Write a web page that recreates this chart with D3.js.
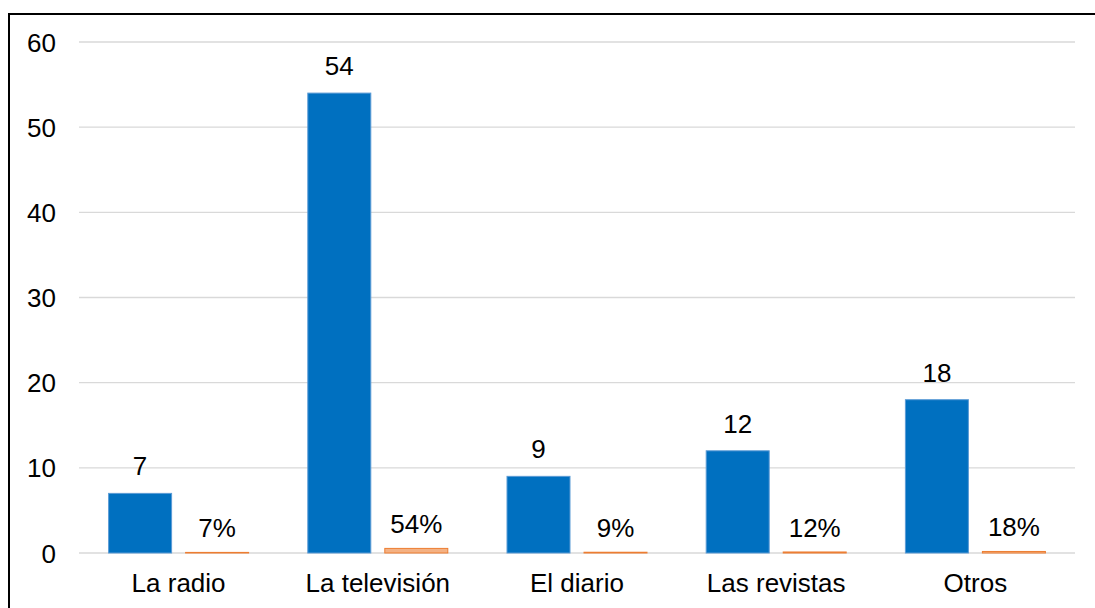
<!DOCTYPE html>
<html>
<head>
<meta charset="utf-8">
<script src="https://cdn.jsdelivr.net/npm/d3@7"></script>
<style>
  body { margin: 0; background: #fff; }
  text { font-family: "Liberation Sans", Arial, sans-serif; }
</style>
</head>
<body>
<script>
const w = 1095;
const h = 608;

const categories = ['La radio', 'La televisión', 'El diario', 'Las revistas', 'Otros'];
const counts = [7, 54, 9, 12, 18];
const percents = [0.07, 0.54, 0.09, 0.12, 0.18];
const yTicks = [0, 10, 20, 30, 40, 50, 60];

const fontSize = '26px';

const svg = d3.select('body')
  .append('svg')
  .attr('width', w)
  .attr('height', h);

// outer frame (right and bottom edges run off the page)
svg.append('rect')
  .attr('x', 9)
  .attr('y', 14)
  .attr('width', 1100)
  .attr('height', 610)
  .attr('fill', 'none')
  .attr('stroke', '#000')
  .attr('stroke-width', 2);

const x = d3.scaleBand()
  .domain(categories)
  .range([79, 1075])
  .paddingInner(0)
  .paddingOuter(0);

const y = d3.scaleLinear()
  .domain([0, 60])
  .range([553, 42]);

const barW = 63;
const gap = 14;

// gridlines
svg.selectAll('line.grid')
  .data(yTicks)
  .enter()
  .append('line')
  .attr('class', 'grid')
  .attr('x1', 79)
  .attr('x2', 1075)
  .attr('y1', d => y(d))
  .attr('y2', d => y(d))
  .attr('stroke', '#d9d9d9')
  .attr('stroke-width', 1.3);

svg.selectAll('text.ytick')
  .data(yTicks)
  .enter()
  .append('text')
  .attr('class', 'ytick')
  .text(d => d)
  .attr('x', 56)
  .attr('y', d => y(d) + 9.5)
  .attr('text-anchor', 'end')
  .style('font-size', fontSize)
  .style('fill', '#000');

const groupX = c => x(c) + x.bandwidth() / 2 - (barW * 2 + gap) / 2;

// count bars
svg.selectAll('rect.count')
  .data(counts)
  .enter()
  .append('rect')
  .attr('class', 'count')
  .attr('x', (d, i) => groupX(categories[i]))
  .attr('y', d => y(d))
  .attr('width', barW)
  .attr('height', d => y(0) - y(d))
  .attr('fill', '#0070c0')
  .attr('stroke', '#5b9bd5')
  .attr('stroke-width', 1);

// percent bars
svg.selectAll('rect.pct')
  .data(percents)
  .enter()
  .append('rect')
  .attr('class', 'pct')
  .attr('x', (d, i) => groupX(categories[i]) + barW + gap)
  .attr('y', d => y(d))
  .attr('width', barW)
  .attr('height', d => Math.max(y(0) - y(d), 0.5))
  .attr('fill', '#f4b183')
  .attr('stroke', '#ed7d31')
  .attr('stroke-width', 1);

svg.selectAll('text.countlbl')
  .data(counts)
  .enter()
  .append('text')
  .attr('class', 'countlbl')
  .text(d => d)
  .attr('x', (d, i) => groupX(categories[i]) + barW / 2)
  .attr('y', d => y(d) - 18)
  .attr('text-anchor', 'middle')
  .style('font-size', fontSize)
  .style('fill', '#000');

svg.selectAll('text.pctlbl')
  .data(percents)
  .enter()
  .append('text')
  .attr('class', 'pctlbl')
  .text(d => Math.round(d * 100) + '%')
  .attr('x', (d, i) => groupX(categories[i]) + barW * 1.5 + gap)
  .attr('y', d => y(d) - 15)
  .attr('text-anchor', 'middle')
  .style('font-size', fontSize)
  .style('fill', '#000');

svg.selectAll('text.cat')
  .data(categories)
  .enter()
  .append('text')
  .attr('class', 'cat')
  .text(d => d)
  .attr('x', d => x(d) + x.bandwidth() / 2)
  .attr('y', 592)
  .attr('text-anchor', 'middle')
  .style('font-size', fontSize)
  .style('fill', '#000');
</script>
</body>
</html>
